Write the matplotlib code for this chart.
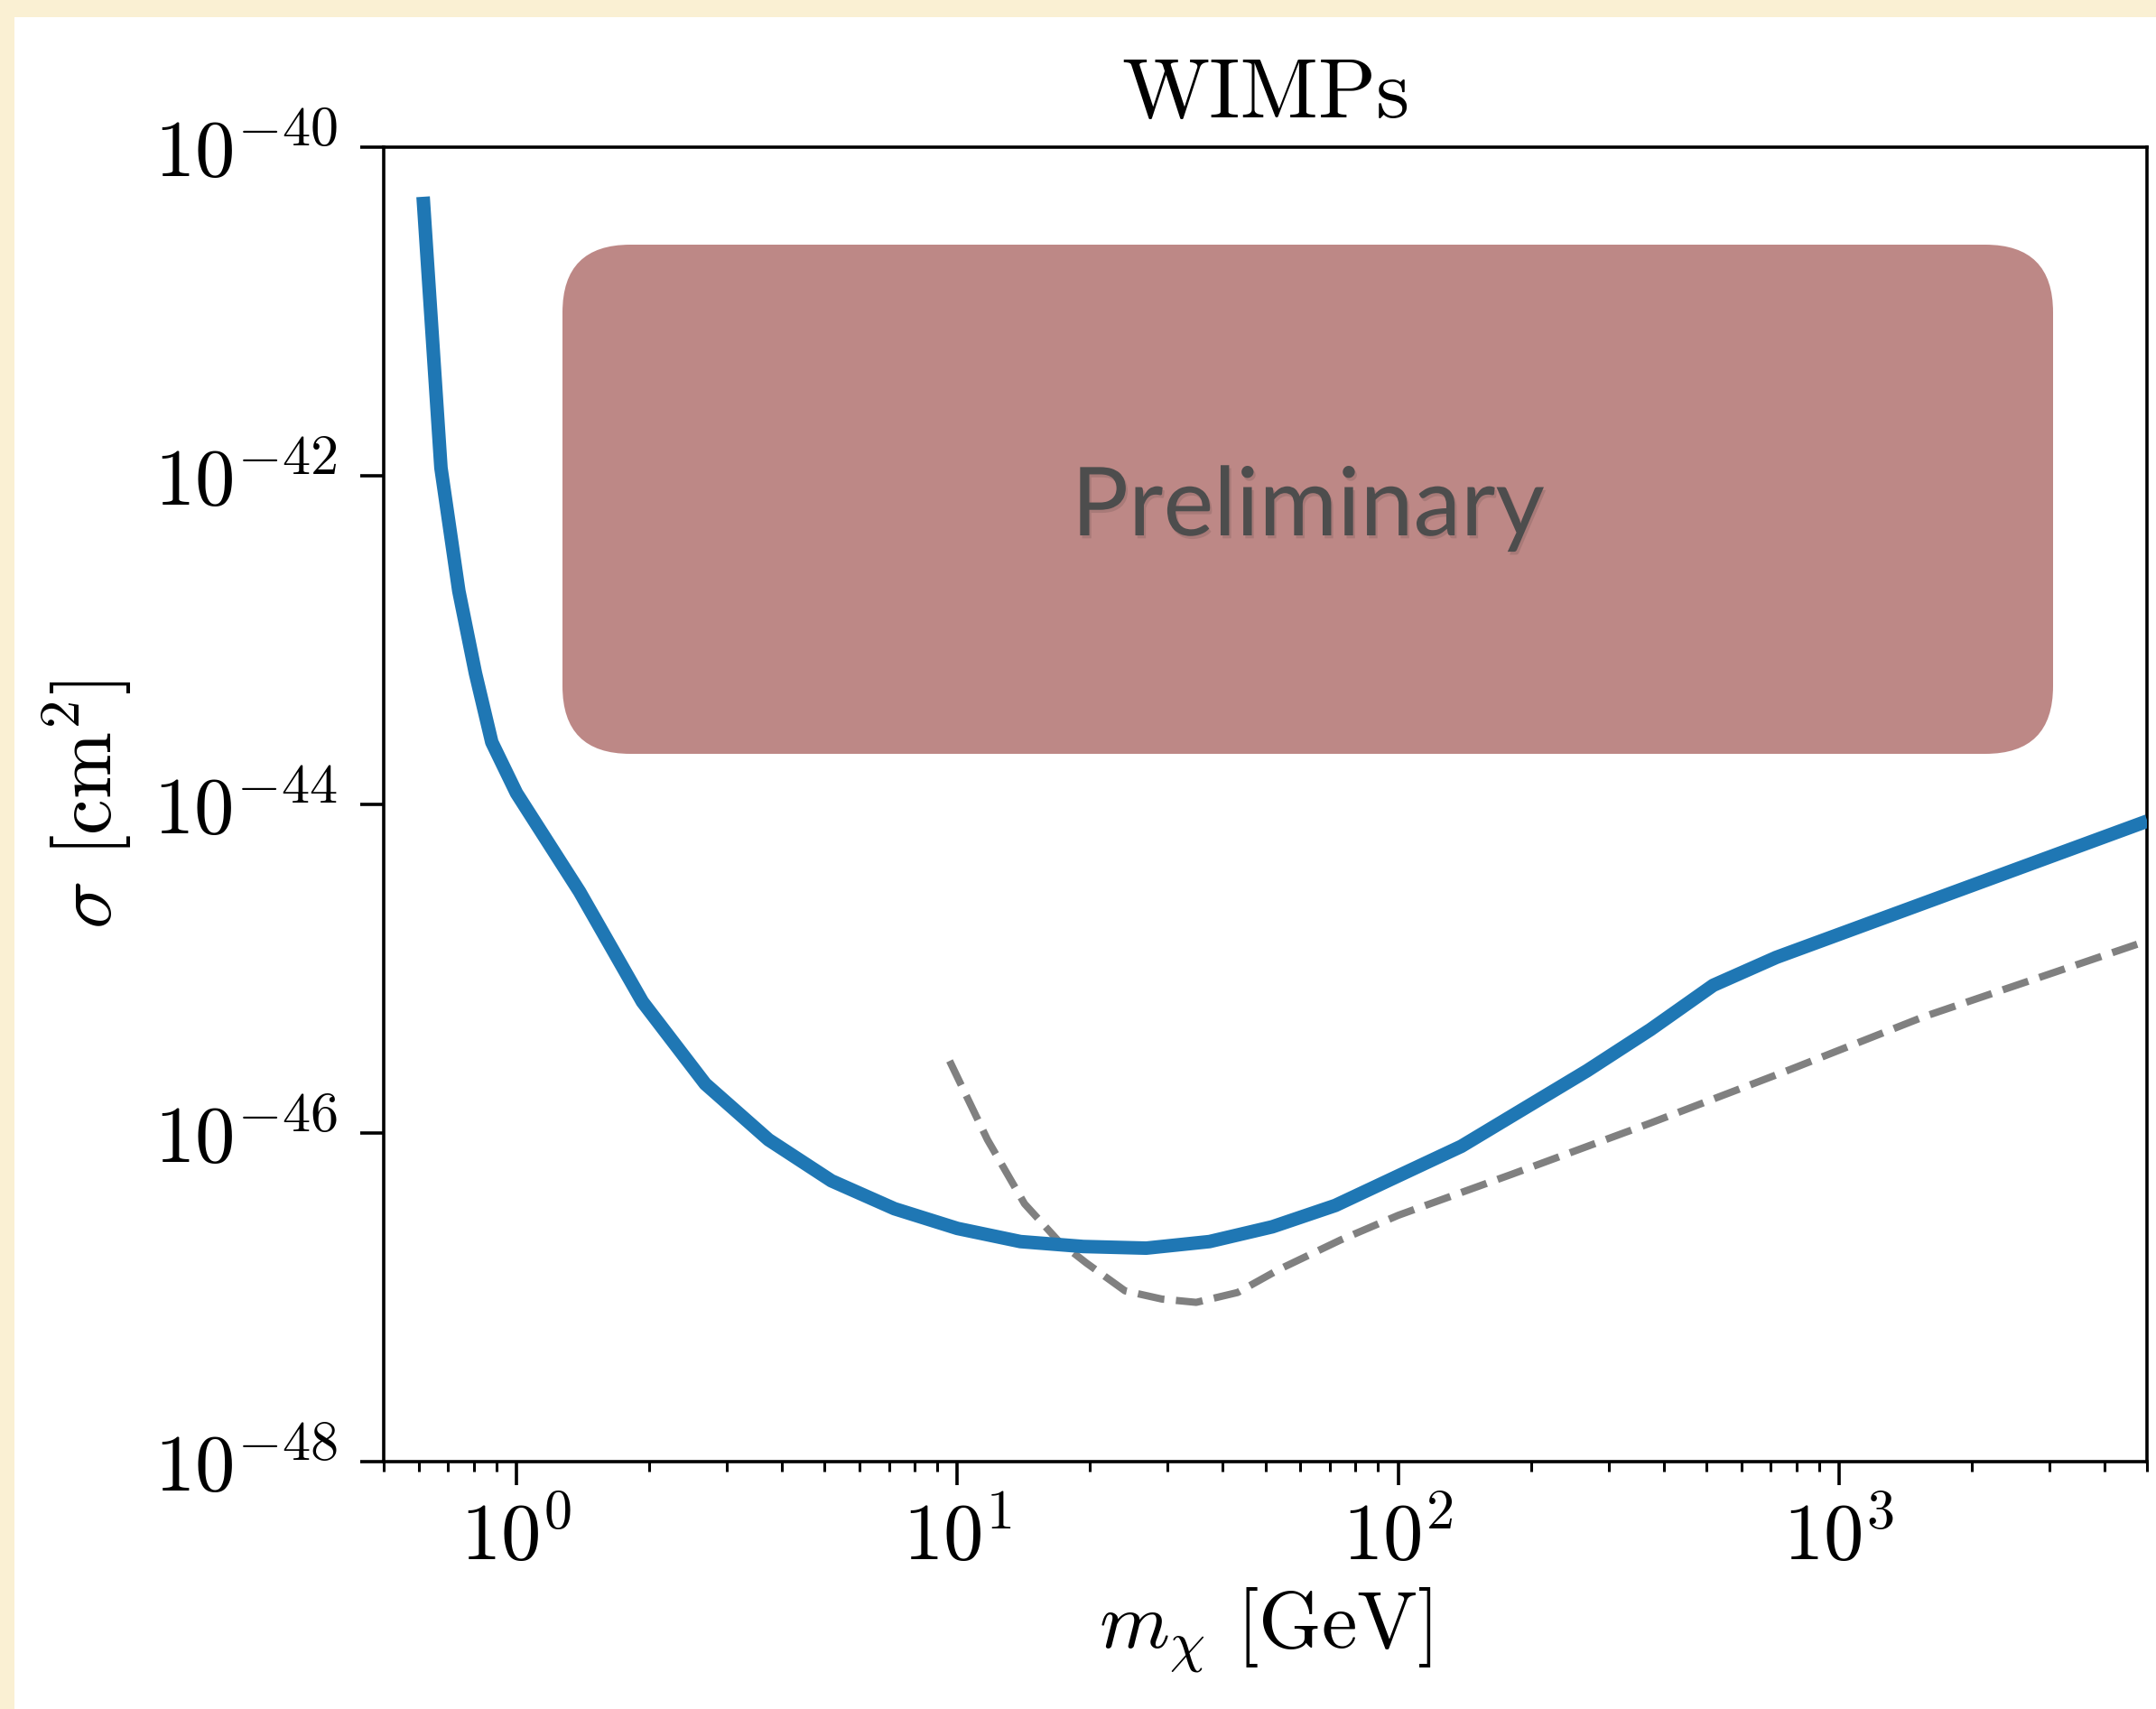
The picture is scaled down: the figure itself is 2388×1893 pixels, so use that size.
import matplotlib
matplotlib.use("Agg")
import matplotlib.pyplot as plt
import matplotlib.patheffects as pe
from matplotlib.patches import Rectangle, FancyBboxPatch
from matplotlib.ticker import NullLocator
import numpy as np

# exclusion limit (solid) and reference curve (dashed), mass in GeV, sigma in cm^2
mass_limit = [0.614, 0.674, 0.74, 0.807, 0.879, 1.0, 1.39, 1.93, 2.68, 3.73,
              5.18, 7.2, 10.0, 13.9, 19.3, 26.8, 37.3, 51.8, 72.0, 100.0,
              139.0, 193.0, 268.0, 373.0, 518.0, 720.0, 5000.0]
log_sigma_limit = [-40.30, -41.95, -42.70, -43.20, -43.62, -43.93, -44.53,
                   -45.20, -45.70, -46.04, -46.29, -46.46, -46.58, -46.66,
                   -46.69, -46.70, -46.66, -46.57, -46.44, -46.26, -46.08,
                   -45.85, -45.62, -45.37, -45.10, -44.93, -44.10]

mass_ref = [9.6, 11.7, 14.2, 17.0, 19.6, 24.0, 29.1, 34.8, 43.2, 53.6, 74.0,
            100.0, 181.0, 372.0, 762.0, 1560.0, 4740.0]
log_sigma_ref = [-45.56, -46.04, -46.43, -46.66, -46.79, -46.96, -47.01,
                 -47.03, -46.97, -46.83, -46.65, -46.50, -46.25, -45.94,
                 -45.62, -45.29, -44.85]

y_ticks = [1e-48, 1e-46, 1e-44, 1e-42, 1e-40]

PARCHMENT = "#faf0d3"
BOX_COLOR = "#bd8886"

plt.rcParams["font.family"] = "serif"
plt.rcParams["font.serif"] = ["cmr10"]
plt.rcParams["mathtext.fontset"] = "cm"
plt.rcParams["axes.formatter.use_mathtext"] = True

W, H, DPI = 2388, 1893, 200
fig = plt.figure(figsize=(W / DPI, H / DPI), dpi=DPI, facecolor=PARCHMENT)
fig.patches.append(Rectangle((0.0065, 0.0), 0.9935, 0.99, transform=fig.transFigure,
                             facecolor="white", edgecolor="none", zorder=-10))

ax = fig.add_axes([0.178, 0.1447, 0.818, 0.769])
ax.plot(mass_limit, 10 ** np.array(log_sigma_limit), color="#1f77b4", lw=5.4,
        solid_capstyle="butt", zorder=3)
ax.plot(mass_ref, 10 ** np.array(log_sigma_ref), color="gray", lw=2.9,
        ls="--", zorder=2)

ax.set_xscale("log")
ax.set_yscale("log")
ax.set_xlim(0.5, 5000)
ax.set_ylim(1e-48, 1e-40)
ax.set_yticks(y_ticks)
ax.yaxis.set_minor_locator(NullLocator())

for s in ax.spines.values():
    s.set_linewidth(1.3)
ax.tick_params(which="major", length=9.5, width=1.3, labelsize=32)
ax.tick_params(which="minor", length=4, width=1.1)
ax.tick_params(axis="x", which="major", pad=6)
ax.tick_params(axis="y", which="major", pad=9)

ax.set_title("WIMPs", fontsize=34, pad=12)
ax.set_xlabel(r"$m_\chi$ [GeV]", fontsize=32, labelpad=4)
ax.set_ylabel(r"$\sigma$ [cm$^2$]", fontsize=32, labelpad=8)

# overlay panel in pixel units so the corners stay round
bx0, bx1, by0, by1 = 623, 2274, 1058, 1622
box_ax = fig.add_axes([bx0 / W, by0 / H, (bx1 - bx0) / W, (by1 - by0) / H])
box_ax.set_xlim(0, bx1 - bx0)
box_ax.set_ylim(0, by1 - by0)
box_ax.axis("off")
box_ax.add_patch(FancyBboxPatch((0, 0), bx1 - bx0, by1 - by0,
                                boxstyle="round,pad=0,rounding_size=75",
                                facecolor=BOX_COLOR, edgecolor="none"))
box_ax.text((bx1 - bx0) / 2, (by1 - by0) / 2 - 10, "Preliminary",
            family="Lato", fontsize=38, color="#4d4d4d", ha="center", va="center",
            path_effects=[pe.withSimplePatchShadow(offset=(0.8, -1.2), alpha=0.12)])

fig.savefig("out.png", dpi=DPI, facecolor=PARCHMENT)
